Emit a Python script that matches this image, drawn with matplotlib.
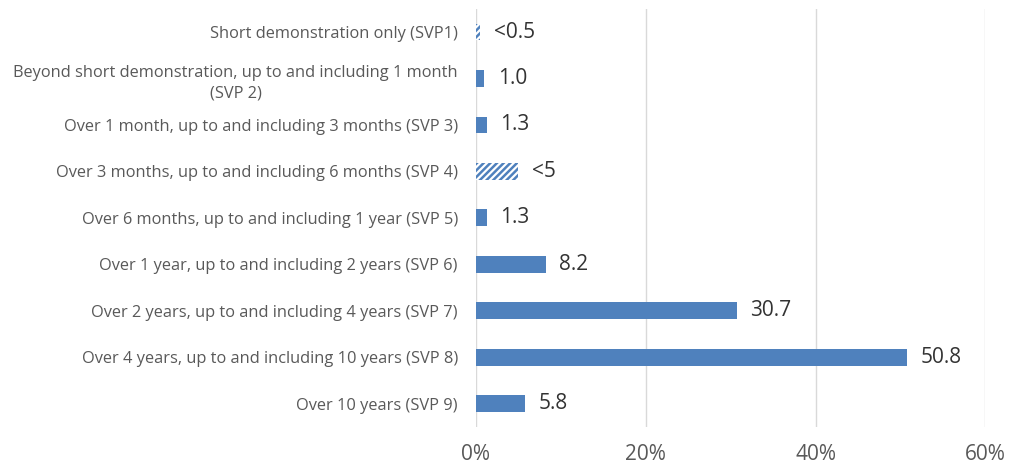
import matplotlib
matplotlib.use("Agg")
import matplotlib.pyplot as plt
import numpy as np

plt.rcParams['font.family'] = ['Open Sans', 'DejaVu Sans']
plt.rcParams['hatch.linewidth'] = 1.8

# categories, top to bottom
categories = [
    "Short demonstration only (SVP1)",
    "Beyond short demonstration, up to and including 1 month\n(SVP 2)",
    "Over 1 month, up to and including 3 months (SVP 3)",
    "Over 3 months, up to and including 6 months (SVP 4)",
    "Over 6 months, up to and including 1 year (SVP 5)",
    "Over 1 year, up to and including 2 years (SVP 6)",
    "Over 2 years, up to and including 4 years (SVP 7)",
    "Over 4 years, up to and including 10 years (SVP 8)",
    "Over 10 years (SVP 9)",
]
values = [0.5, 1.0, 1.3, 5.0, 1.3, 8.2, 30.7, 50.8, 5.8]
labels = ["<0.5", "1.0", "1.3", "<5", "1.3", "8.2", "30.7", "50.8", "5.8"]
suppressed = [True, False, False, True, False, False, False, False, False]

blue = "#4f81bd"
grey = "#595959"

fig = plt.figure(figsize=(10.19, 4.66), dpi=100)
ax = fig.add_axes([0.467, 0.084, 0.5, 0.897])

y = np.arange(len(categories))
for i in range(len(categories)):
    if suppressed[i]:
        ax.barh(y[i], values[i], height=0.36, color="white", edgecolor=blue,
                hatch="/////", linewidth=0)
    else:
        ax.barh(y[i], values[i], height=0.36, color=blue)
    ax.text(values[i] + 1.6, y[i], labels[i], va="center", ha="left",
            fontsize=15, color="#333333")

ax.set_xlim(0, 60)
ax.set_ylim(len(categories) - 0.5, -0.5)
ax.set_xticks([0, 20, 40, 60])
ax.set_xticklabels(["0%", "20%", "40%", "60%"])
ax.set_yticks(y)
ax.set_yticklabels(categories, fontsize=11.8, color=grey, ha="right",
                   multialignment="center", linespacing=1.45)
ax.tick_params(axis="y", length=0, pad=13)
ax.tick_params(axis="x", length=0, pad=12, labelsize=15, labelcolor=grey)
ax.grid(axis="x", color="#d9d9d9", linewidth=1)
ax.set_axisbelow(True)
for s in ax.spines.values():
    s.set_visible(False)

fig.savefig("out.png", dpi=100)
